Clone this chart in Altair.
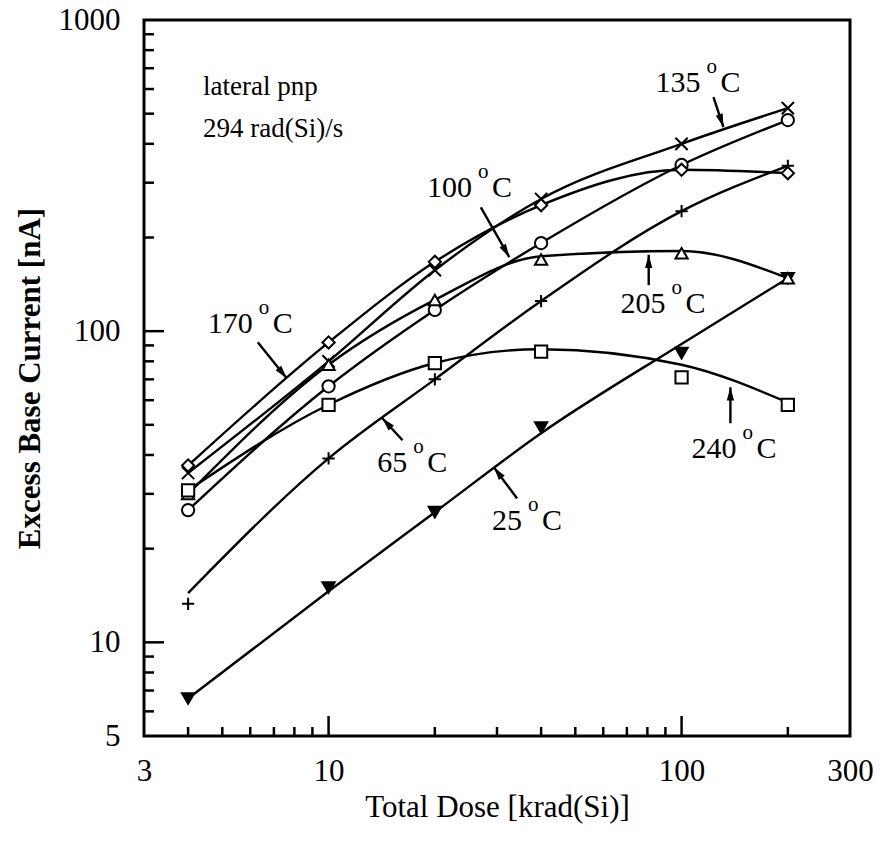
import math
import altair as alt
import pandas as pd

# ---------------- data ----------------
dose = [4, 10, 20, 40, 100, 200]
temps = ["25", "65", "100", "135", "170", "205", "240"]

# measured points (markers)
pt_25 = [6.6, 15.0, 26.2, 49, 85, 148]
pt_65 = [13.3, 39, 70, 125, 243, 340]
pt_100 = [26.6, 66.5, 117, 192, 342, 477]
pt_135 = [35, 80, 157, 266, 400, 521]
pt_170 = [37, 92, 167, 254, 330, 322]
pt_205 = [30, 78, 126, 170, 178, 148]
pt_240 = [30.8, 58, 79, 86, 71, 58]

# drawn curves (at the same doses)
ln_25 = [6.6, 14.6, 26.2, 47, 91, 148]
ln_65 = [14.4, 39, 70, 125, 243, 340]
ln_100 = [26.6, 66.5, 117, 192, 342, 477]
ln_135 = [35, 80, 157, 266, 400, 521]
ln_170 = [37, 92, 167, 254, 330, 322]
ln_205 = [30, 78, 126, 174, 181, 148]
ln_240 = [30.8, 58, 79, 87.5, 78, 59]

x_tick_labels = [3, 10, 100, 300]
y_tick_labels = [5, 10, 100, 1000]
x_major = [10, 100]
x_minor = [4, 5, 6, 7, 8, 9, 20, 30, 40, 50, 60, 70, 80, 90, 200]
y_major = [10, 100]
y_minor = [6, 7, 8, 9, 20, 30, 40, 50, 60, 70, 80, 90,
           200, 300, 400, 500, 600, 700, 800, 900]

# temperature labels (anchor = right end of the number, on its baseline)
label_num = ["135", "100", "170", "205", "240", "65", "25"]
label_x = [113.2, 25.5, 6.10, 90.1, 143.0, 16.7, 35.3]
label_y = [587, 270, 98.5, 114.3, 39.0, 35.2, 22.9]

# arrows: start -> tip
arrow_x1 = [123.1, 27.0, 6.30, 80.7, 137.5, 16.2, 34.2]
arrow_y1 = [565, 250, 92.2, 140.6, 50.6, 44.6, 29.0]
arrow_x2 = [131.4, 32.5, 7.61, 80.7, 137.5, 14.2, 29.4]
arrow_y2 = [453, 173, 70.6, 176, 66.0, 52.5, 36.5]

note_text = ["lateral pnp", "294 rad(Si)/s"]
note_x = [4.41, 4.41]
note_y = [574, 421]

# ---------------- layout / style ----------------
W, H = 706, 716
FONT = "Liberation Serif"
XD = [3, 300]
YD = [5, 1000]

shape_range = [
    "triangle-down",
    "M-1,0L1,0M0,-1L0,1",
    "circle",
    "M-1,-1L1,1M-1,1L1,-1",
    "diamond",
    "triangle-up",
    "square",
]
fill_range = ["black", "white", "white", "white", "white", "white", "white"]

pts = [pt_25, pt_65, pt_100, pt_135, pt_170, pt_205, pt_240]
lns = [ln_25, ln_65, ln_100, ln_135, ln_170, ln_205, ln_240]
prow, lrow = [], []
for t, pv, lv in zip(temps, pts, lns):
    for d, a, b in zip(dose, pv, lv):
        prow.append({"temp": t, "dose": d, "current": a})
        lrow.append({"temp": t, "dose": d, "current": b})
pdf = pd.DataFrame(prow)
ldf = pd.DataFrame(lrow)

xs = alt.Scale(type="log", domain=XD, nice=False)
ys = alt.Scale(type="log", domain=YD, nice=False)


def px(v):
    return W * (math.log10(v) - math.log10(XD[0])) / (math.log10(XD[1]) - math.log10(XD[0]))


def py(v):
    return H * (1 - (math.log10(v) - math.log10(YD[0])) / (math.log10(YD[1]) - math.log10(YD[0])))


arr = []
for a, b, c, d in zip(arrow_x1, arrow_y1, arrow_x2, arrow_y2):
    dx = px(c) - px(a)
    dy = py(d) - py(b)
    ang = math.degrees(math.atan2(dx, -dy)) % 360
    arr.append({"x1": a, "y1": b, "x2": c, "y2": d, "angle": ang})
arr_df = pd.DataFrame(arr)

lab_df = pd.DataFrame({"num": label_num, "x": label_x, "y": label_y})
note_df = pd.DataFrame({"t": note_text, "x": note_x, "y": note_y})

xaxis = alt.Axis(values=x_tick_labels, ticks=False, domain=False, grid=False, format="d",
                 labelFont=FONT, labelFontSize=31, labelColor="black",
                 labelPadding=20, labelFlush=False, labelOverlap=False,
                 title="Total Dose [krad(Si)]", titleFont=FONT, titleFontSize=31,
                 titleFontWeight="normal", titleColor="black", titlePadding=6)
yaxis = alt.Axis(values=y_tick_labels, ticks=False, domain=False, grid=False, format="d",
                 labelFont=FONT, labelFontSize=31, labelColor="black",
                 labelPadding=24, labelFlush=False, labelOverlap=False,
                 title="Excess Base Current [nA]", titleFont=FONT, titleFontSize=31,
                 titleFontWeight="bold", titleColor="black", titlePadding=12)

base_axes = alt.Chart(pdf).mark_point(opacity=0).encode(
    x=alt.X("dose:Q", scale=xs, axis=xaxis),
    y=alt.Y("current:Q", scale=ys, axis=yaxis),
)

xmaj = alt.Chart(pd.DataFrame({"v": x_major})).mark_rule(color="black", strokeWidth=2.5).encode(
    x=alt.X("v:Q", scale=xs), y=alt.value(H), y2=alt.value(H - 20))
xmin = alt.Chart(pd.DataFrame({"v": x_minor})).mark_rule(color="black", strokeWidth=2.5).encode(
    x=alt.X("v:Q", scale=xs), y=alt.value(H), y2=alt.value(H - 9))
ymaj = alt.Chart(pd.DataFrame({"v": y_major})).mark_rule(color="black", strokeWidth=2.5).encode(
    y=alt.Y("v:Q", scale=ys), x=alt.value(0), x2=alt.value(20))
ymin = alt.Chart(pd.DataFrame({"v": y_minor})).mark_rule(color="black", strokeWidth=2.5).encode(
    y=alt.Y("v:Q", scale=ys), x=alt.value(0), x2=alt.value(10))

lines = alt.Chart(ldf).mark_line(color="black", strokeWidth=2.4, interpolate="monotone").encode(
    x=alt.X("dose:Q", scale=xs), y=alt.Y("current:Q", scale=ys), detail="temp:N",
    order="dose:Q")

points = alt.Chart(pdf).mark_point(filled=True, stroke="black", strokeWidth=2, opacity=1,
                                   size=150).encode(
    x=alt.X("dose:Q", scale=xs), y=alt.Y("current:Q", scale=ys),
    shape=alt.Shape("temp:N", scale=alt.Scale(domain=temps, range=shape_range), legend=None),
    fill=alt.Fill("temp:N", scale=alt.Scale(domain=temps, range=fill_range), legend=None),
)

shafts = alt.Chart(arr_df).mark_rule(color="black", strokeWidth=2.4).encode(
    x=alt.X("x1:Q", scale=xs), y=alt.Y("y1:Q", scale=ys),
    x2="x2:Q", y2="y2:Q")
heads = alt.Chart(arr_df).mark_point(filled=True, color="black", opacity=1, size=484,
                                     shape="M0,0L-0.33,1.2L0.33,1.2Z").encode(
    x=alt.X("x2:Q", scale=xs), y=alt.Y("y2:Q", scale=ys),
    angle=alt.Angle("angle:Q", scale=None))

nums = alt.Chart(lab_df).mark_text(font=FONT, fontSize=30, align="right", baseline="alphabetic",
                                   color="black").encode(
    x=alt.X("x:Q", scale=xs), y=alt.Y("y:Q", scale=ys), text="num:N")
degs = alt.Chart(lab_df).mark_text(font=FONT, fontSize=21, align="left", baseline="alphabetic",
                                   dx=6, dy=-19, color="black").encode(
    x=alt.X("x:Q", scale=xs), y=alt.Y("y:Q", scale=ys), text=alt.value("o"))
cees = alt.Chart(lab_df).mark_text(font=FONT, fontSize=30, align="left", baseline="alphabetic",
                                   dx=20, color="black").encode(
    x=alt.X("x:Q", scale=xs), y=alt.Y("y:Q", scale=ys), text=alt.value("C"))

notes = alt.Chart(note_df).mark_text(font=FONT, fontSize=27, align="left", baseline="alphabetic",
                                     color="black").encode(
    x=alt.X("x:Q", scale=xs), y=alt.Y("y:Q", scale=ys), text="t:N")

chart = alt.layer(base_axes, xmaj, xmin, ymaj, ymin, lines, shafts, heads, points,
                  nums, degs, cees, notes).properties(
    width=W, height=H,
    autosize=alt.AutoSizeParams(type="none"),
    padding={"left": 144, "top": 20, "right": 32, "bottom": 106},
    background="white",
).configure_view(stroke="black", strokeWidth=3).configure_axis(grid=False)

chart.save("out.html", embed_options={"renderer": "svg", "actions": False})
